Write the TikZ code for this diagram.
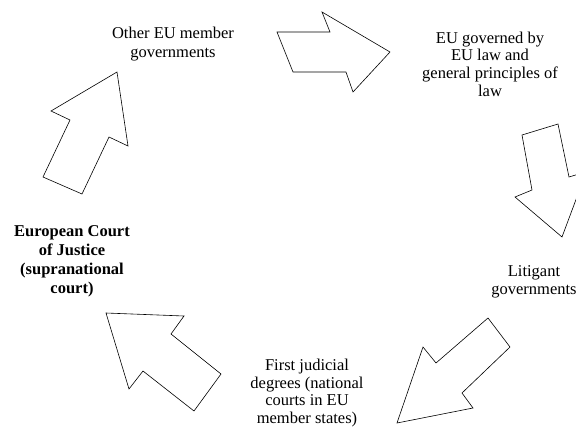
\documentclass[tikz,border=0pt]{standalone}
\usepackage{fontspec}
\setmainfont{Liberation Serif}
\begin{document}
\begin{tikzpicture}[x=1pt,y=-1pt,
  blockarrow/.style={draw=black,line width=0.6pt,fill=white,line join=miter},
  lbl/.style={align=center,inner sep=0pt,font=\fontsize{16.5}{17.6}\selectfont}]
\useasboundingbox (0,0) rectangle (576,432);
\clip (0,0) rectangle (576,432);
% texts
\node[lbl,font=\fontsize{16.5}{19}\selectfont] (other) at (173,44) {Other EU member\\governments};
\node[lbl] (eulaw) at (490,64) {EU governed by\\EU law and\\general principles of\\law};
\node[lbl,font=\fontsize{16.5}{18}\selectfont] (litig) at (534,282) {Litigant\\governments};
\node[lbl] (first) at (307,393) {First judicial\\degrees (national\\courts in EU\\member states)};
\node[lbl,font=\fontsize{16.5}{19}\selectfont\bfseries] (ecj) at (72,261) {European Court\\of Justice\\(supranational\\court)};
% arrows
\draw[blockarrow] (277,32) -- (330,32) -- (322,12) -- (390,52) -- (353,92) -- (346,72) -- (293,72) -- cycle;
\draw[blockarrow] (522,135) -- (558,124) -- (569,177) -- (586.4,171.7) -- (562,237) -- (515,197) -- (532,190) -- cycle;
\draw[blockarrow] (488,318) -- (510,347) -- (462,393) -- (473,408) -- (397,423) -- (423,347) -- (436,363) -- cycle;
\draw[blockarrow] (106,313) -- (184,316) -- (171,334) -- (221,374) -- (194,411) -- (143,371) -- (129,389) -- cycle;
\draw[blockarrow] (117,72) -- (128,146) -- (109,137) -- (82,194) -- (43,177) -- (70,120) -- (51,111) -- cycle;
\end{tikzpicture}
\end{document}
